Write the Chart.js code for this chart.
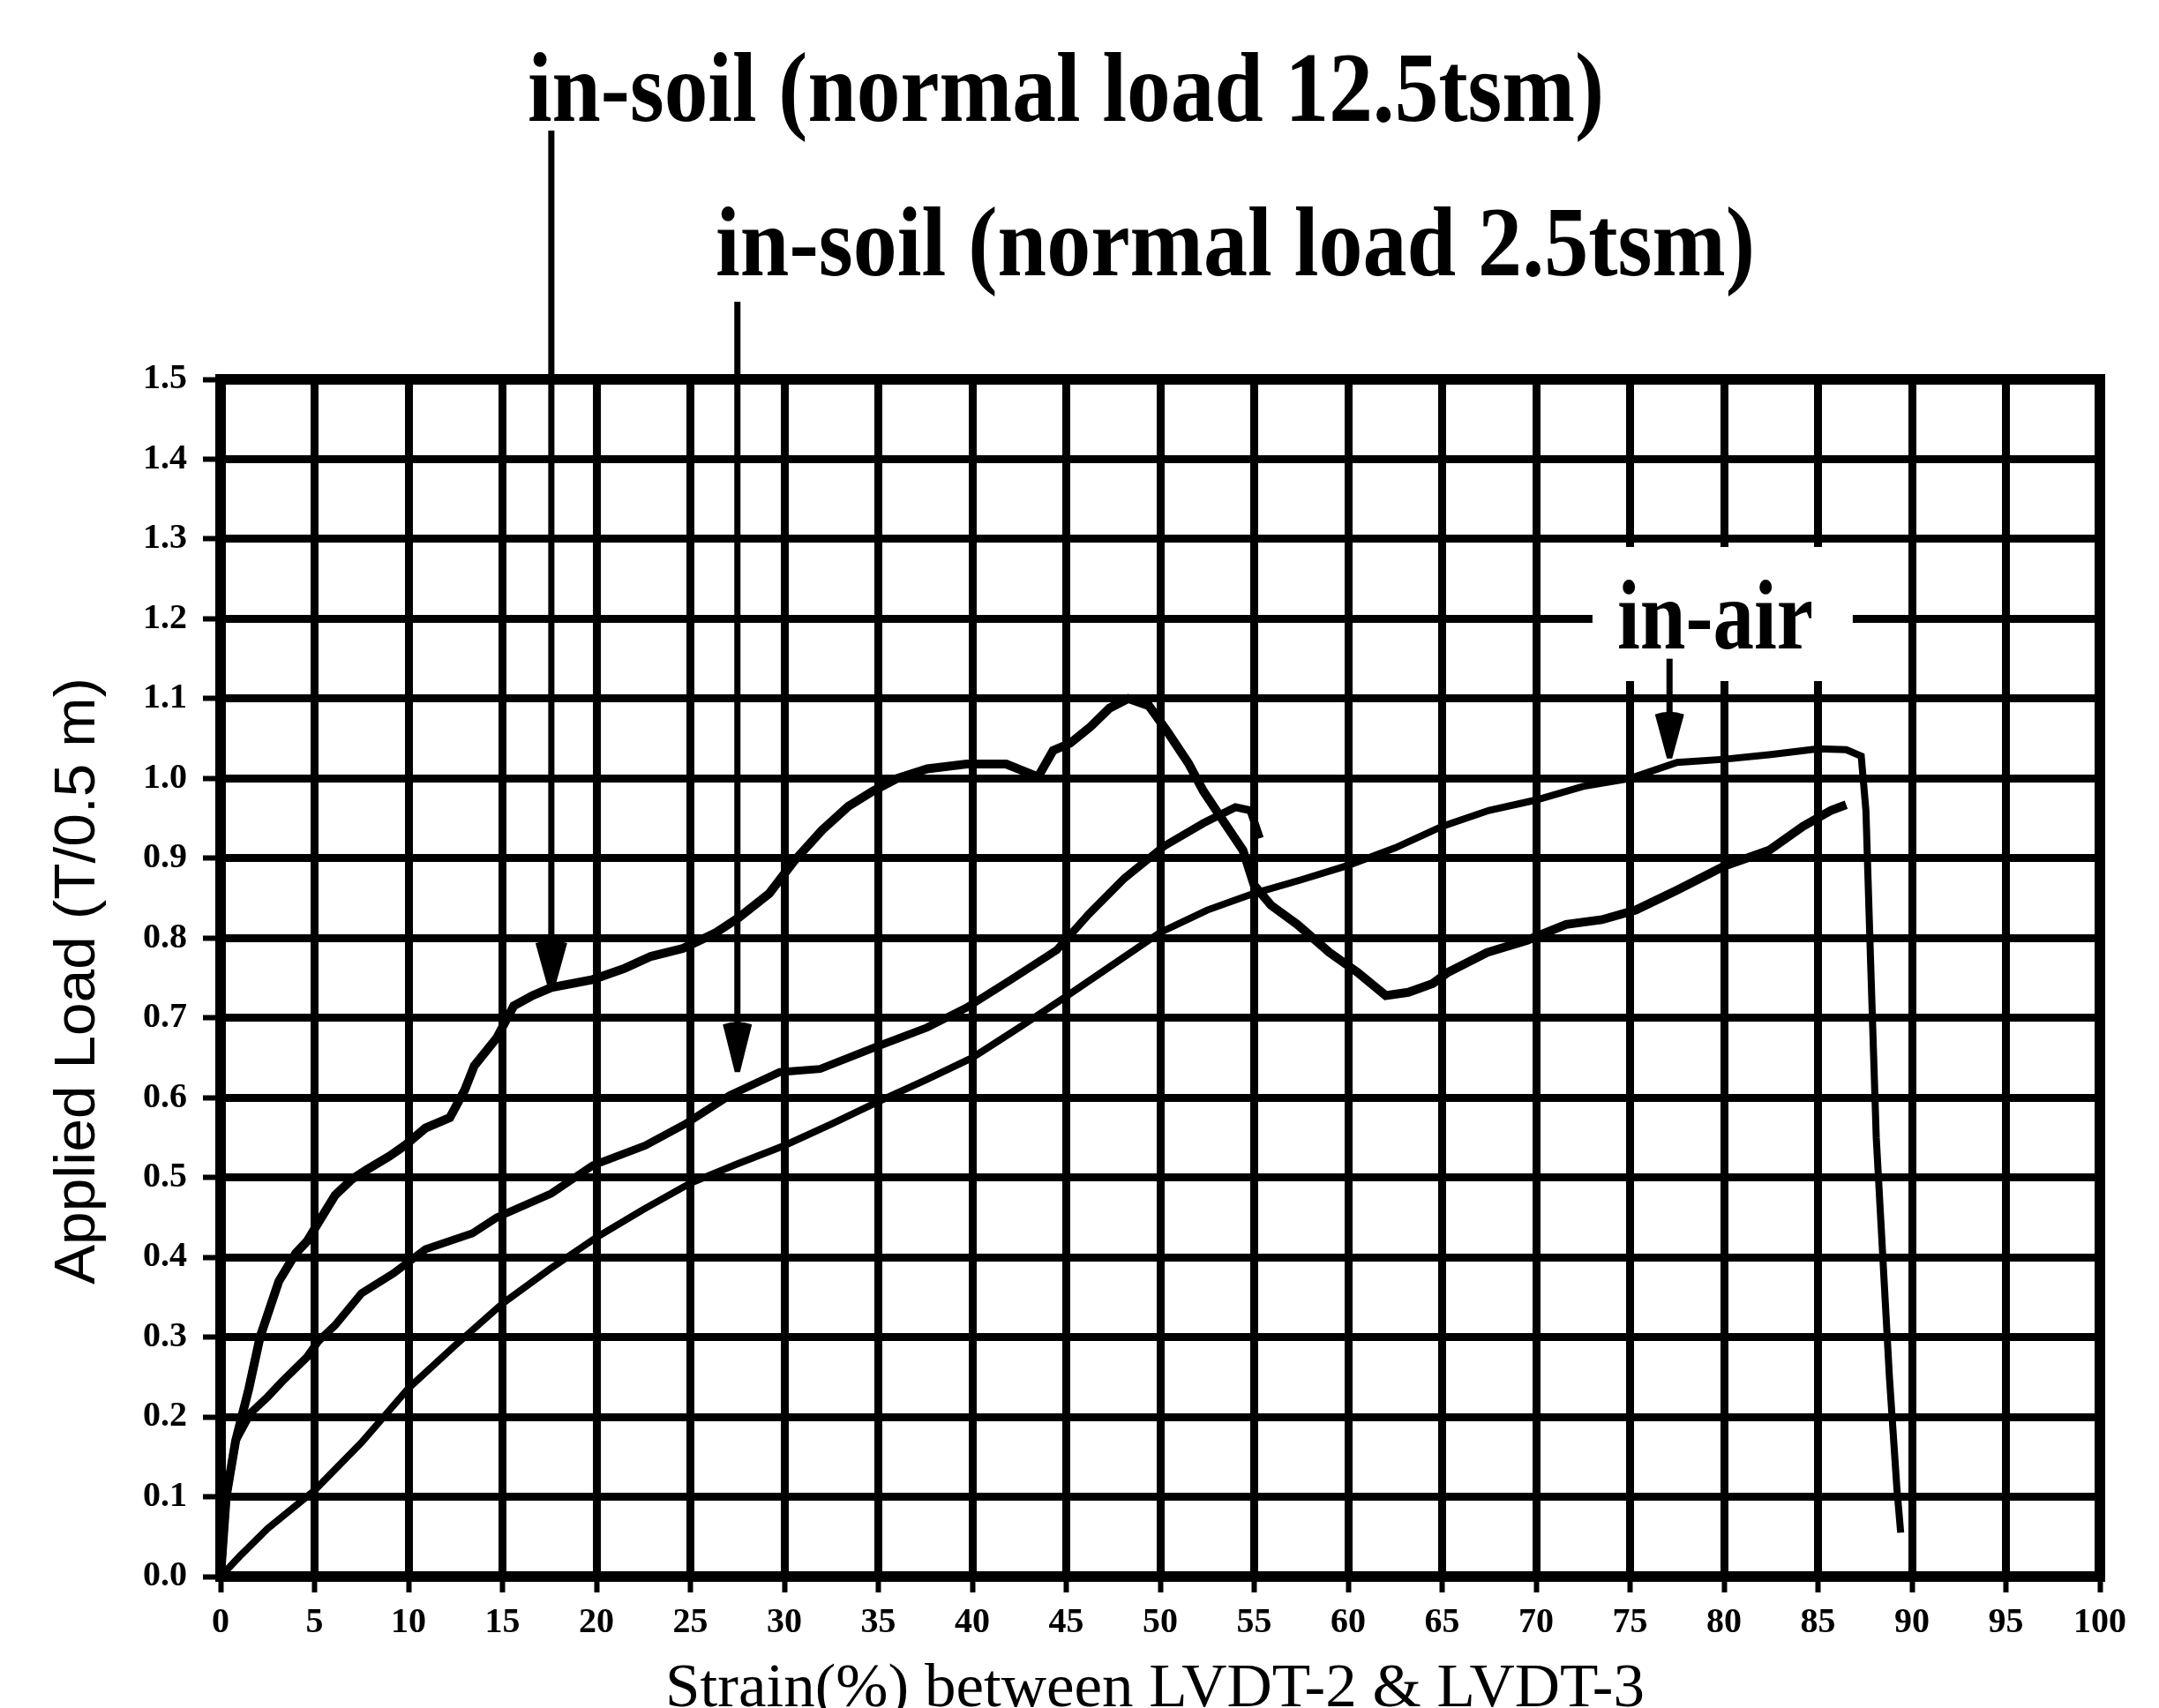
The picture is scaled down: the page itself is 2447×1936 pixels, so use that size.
<!DOCTYPE html>
<html>
<head>
<meta charset="utf-8">
<script src="https://cdn.jsdelivr.net/npm/chart.js@4.4.0/dist/chart.umd.min.js"></script>
<style>
  html, body { margin: 0; padding: 0; background: #ffffff; }
  canvas { display: block; }
</style>
</head>
<body>
<canvas id="c" width="2447" height="1936"></canvas>
<script>
// ---------------- data ----------------
const xTickLabels = ['0','5','10','15','20','25','30','35','40','45','50','55','60','65','70','75','80','85','90','95','100'];
const yTickLabels = ['0.0','0.1','0.2','0.3','0.4','0.5','0.6','0.7','0.8','0.9','1.0','1.1','1.2','1.3','1.4','1.5'];

const xAxisTitle = 'Strain(%) between LVDT-2 & LVDT-3';
const yAxisTitle = 'Applied Load (T/0.5 m)';
const label125 = 'in-soil (normal load 12.5tsm)';
const label25 = 'in-soil (normal load 2.5tsm)';
const labelAir = 'in-air';

// in-air
const inAirX = [0, 1, 2.5, 5, 7.5, 10, 12.5, 15, 17.5, 20, 22.5, 25, 27.5, 30, 32.5, 35, 37.5, 40, 42.5, 45,
  47.5, 50, 52.5, 55, 57.5, 60, 62.5, 65, 67.5, 70, 72.5, 75, 77.5, 80, 82.5, 85, 86.5, 87.3,
  87.55, 87.8, 88.1, 88.45, 88.8, 89.2, 89.4];
const inAirY = [0, 0.025, 0.06, 0.108, 0.168, 0.236, 0.29, 0.342, 0.385, 0.425, 0.46, 0.493, 0.517, 0.54, 0.567, 0.595, 0.622, 0.65, 0.688, 0.727,
  0.767, 0.807, 0.835, 0.856, 0.873, 0.891, 0.913, 0.94, 0.96, 0.973, 0.99, 1.0, 1.02, 1.024, 1.03, 1.037, 1.036, 1.028,
  0.96, 0.77, 0.55, 0.4, 0.25, 0.11, 0.055];

// in-soil, normal load 12.5 tsm
const soil125X = [0, 0.3, 0.8, 1.5, 2.1, 3.1, 4.0, 4.6, 5.5, 6.1, 7.0, 7.8, 9.0, 9.8, 10.9, 12.2, 13.0, 13.5, 14.7, 15.6,
  16.6, 17.6, 19.8, 21.5, 22.9, 24.6, 26.3, 27.6, 29.2, 30.5, 32.0, 33.4, 34.7, 36.0, 37.6, 39.7, 41.8, 43.5, 44.3, 45.2,
  46.3, 47.3, 48.3, 49.4, 50.4, 51.5, 52.3, 53.4, 54.4, 55.0, 55.9, 57.3, 59.0, 60.5, 62.0, 63.2, 64.5, 65.3, 67.4, 69.5,
  71.6, 73.5, 75.3, 77.5, 80.0, 82.4, 84.2, 85.7, 86.5];
const soil125Y = [0, 0.10, 0.17, 0.235, 0.30, 0.37, 0.405, 0.42, 0.455, 0.478, 0.498, 0.51, 0.527, 0.54, 0.562, 0.575, 0.61, 0.64, 0.675, 0.715,
  0.728, 0.738, 0.748, 0.762, 0.777, 0.787, 0.806, 0.826, 0.856, 0.896, 0.935, 0.965, 0.984, 1.0, 1.012, 1.018, 1.018, 1.002, 1.035, 1.044,
  1.065, 1.088, 1.1, 1.091, 1.058, 1.019, 0.984, 0.945, 0.91, 0.866, 0.841, 0.817, 0.782, 0.757, 0.728, 0.732, 0.743, 0.757, 0.782, 0.797,
  0.817, 0.823, 0.835, 0.86, 0.89, 0.91, 0.94, 0.96, 0.967];

// in-soil, normal load 2.5 tsm
const soil25X = [0, 0.3, 0.8, 1.6, 2.5, 3.3, 4.6, 5.2, 6.1, 7.5, 9.2, 10.9, 13.4, 14.7, 17.6, 19.8, 22.6, 24.8, 27.1, 29.75,
  31.9, 34.8, 37.6, 39.7, 42.0, 44.5, 46.2, 48.1, 50.2, 52.3, 54.0, 54.8, 55.3];
const soil25Y = [0, 0.10, 0.17, 0.205, 0.225, 0.245, 0.275, 0.295, 0.315, 0.355, 0.38, 0.41, 0.43, 0.45, 0.48, 0.515, 0.54, 0.568, 0.603, 0.632,
  0.636, 0.663, 0.688, 0.713, 0.747, 0.785, 0.83, 0.875, 0.915, 0.944, 0.964, 0.96, 0.925];

const toPoints = (xs, ys) => xs.map((v, i) => ({ x: v, y: ys[i] }));

// ---------------- drawing helpers ----------------
function fitText(ctx, text, left, right, baseline, font) {
  ctx.save();
  ctx.font = font;
  const w = ctx.measureText(text).width;
  ctx.translate(left, baseline);
  ctx.scale((right - left) / w, 1);
  ctx.textAlign = 'left';
  ctx.textBaseline = 'alphabetic';
  ctx.fillStyle = '#000';
  ctx.fillText(text, 0, 0);
  ctx.restore();
}

function arrowDown(ctx, px, yTop, yTip, headW, headH, lw) {
  ctx.save();
  ctx.strokeStyle = '#000';
  ctx.fillStyle = '#000';
  ctx.lineWidth = lw;
  ctx.beginPath();
  ctx.moveTo(px, yTop);
  ctx.lineTo(px, yTip - headH + 4);
  ctx.stroke();
  ctx.beginPath();
  ctx.moveTo(px - headW / 2, yTip - headH);
  ctx.quadraticCurveTo(px, yTip - headH - 6, px + headW / 2, yTip - headH);
  ctx.lineTo(px + 3, yTip);
  ctx.lineTo(px - 3, yTip);
  ctx.closePath();
  ctx.fill();
  ctx.restore();
}

const decor = {
  id: 'decor',
  beforeDatasetsDraw(chart) {
    const { ctx, chartArea: a, scales: { x, y } } = chart;
    ctx.save();
    // top & right frame
    ctx.strokeStyle = '#000';
    ctx.lineWidth = 12;
    ctx.lineCap = 'square';
    ctx.beginPath();
    ctx.moveTo(a.left, a.top);
    ctx.lineTo(a.right, a.top);
    ctx.lineTo(a.right, a.bottom);
    ctx.stroke();
    // white patch behind the "in-air" label
    const bx0 = x.getPixelForValue(73.0), bx1 = x.getPixelForValue(86.85);
    const by0 = y.getPixelForValue(1.29), by1 = y.getPixelForValue(1.122);
    ctx.fillStyle = '#fff';
    ctx.fillRect(bx0, by0, bx1 - bx0, by1 - by0);
    ctx.restore();
  },
  afterDatasetsDraw(chart) {
    const { ctx, scales: { x, y } } = chart;
    // arrows
    arrowDown(ctx, x.getPixelForValue(17.6), 148, y.getPixelForValue(0.734), 36, 54, 7);
    arrowDown(ctx, x.getPixelForValue(27.5), 342, y.getPixelForValue(0.632), 33, 54, 7);
    arrowDown(ctx, x.getPixelForValue(77.1), y.getPixelForValue(1.15), y.getPixelForValue(1.025), 33, 50, 7);
    // annotation labels
    const bold = 'bold 112px "Liberation Serif", "Times New Roman", serif';
    fitText(ctx, label125, 598, 1818, 137, bold);
    fitText(ctx, label25, 811, 1989, 312, bold);
    fitText(ctx, labelAir, 1833, 2055, 735, bold);
    // axis titles
    fitText(ctx, xAxisTitle, 754, 1864, 1934, '69px "Liberation Serif", "Times New Roman", serif');
    ctx.save();
    ctx.translate(107, 1112);
    ctx.rotate(-Math.PI / 2);
    fitText(ctx, yAxisTitle, -344, 344, 0, '64px "Liberation Sans", Arial, sans-serif');
    ctx.restore();
  }
};

// ---------------- chart ----------------
const tickFont = { family: '"Liberation Serif", "Times New Roman", serif', weight: 'bold', size: 40 };

new Chart(document.getElementById('c'), {
  type: 'scatter',
  data: {
    datasets: [
      { label: labelAir, data: toPoints(inAirX, inAirY), showLine: true, borderColor: '#000', borderWidth: 8, pointRadius: 0, tension: 0 },
      { label: label125, data: toPoints(soil125X, soil125Y), showLine: true, borderColor: '#000', borderWidth: 10, pointRadius: 0, tension: 0 },
      { label: label25, data: toPoints(soil25X, soil25Y), showLine: true, borderColor: '#000', borderWidth: 9, pointRadius: 0, tension: 0 }
    ]
  },
  options: {
    responsive: false,
    animation: false,
    devicePixelRatio: 1,
    layout: { padding: { top: 430, right: 67, bottom: 0, left: 0 } },
    plugins: { legend: { display: false }, tooltip: { enabled: false }, title: { display: false } },
    scales: {
      x: {
        type: 'linear', min: 0, max: 100,
        afterFit: (s) => { s.height = 149; },
        ticks: {
          stepSize: 5, autoSkip: false, maxRotation: 0, minRotation: 0,
          color: '#000', font: tickFont, padding: 11,
          callback: (v) => xTickLabels[Math.round(v / 5)]
        },
        grid: { color: '#000', lineWidth: 9, drawTicks: true, tickLength: 18, tickWidth: 6, tickColor: '#000' },
        border: { display: true, color: '#000', width: 12 }
      },
      y: {
        type: 'linear', min: 0, max: 1.5,
        afterFit: (s) => { s.width = 250; },
        ticks: {
          stepSize: 0.1, autoSkip: false,
          color: '#000', font: tickFont, padding: 18,
          callback: (v) => yTickLabels[Math.round(v * 10)]
        },
        grid: { color: '#000', lineWidth: 9, drawTicks: true, tickLength: 20, tickWidth: 6, tickColor: '#000' },
        border: { display: true, color: '#000', width: 12 }
      }
    }
  },
  plugins: [decor]
});
</script>
</body>
</html>
